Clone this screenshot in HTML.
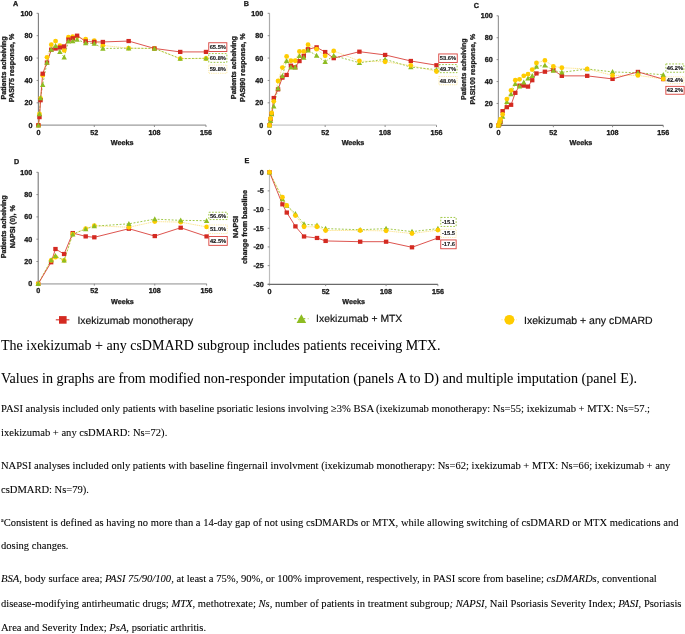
<!DOCTYPE html>
<html><head><meta charset="utf-8"><style>
html,body{margin:0;padding:0;background:#fff;}
body{width:685px;height:634px;position:relative;overflow:hidden;}
svg{position:absolute;left:0;top:0;will-change:transform;text-rendering:geometricPrecision;}
.p{will-change:transform;}
.t{font-family:"Liberation Sans", sans-serif;font-weight:bold;font-size:7.2px;fill:#1a1a1a;stroke:#1a1a1a;stroke-width:0.3px;}
.b{font-family:"Liberation Sans", sans-serif;font-weight:bold;font-size:5.75px;fill:#1a1a1a;stroke:#1a1a1a;stroke-width:0.12px;}
.lg{font-family:"Liberation Sans", sans-serif;font-size:10.25px;fill:#111;stroke:#111;stroke-width:0.18px;}
.p{position:absolute;left:1px;margin:0;font-family:"Liberation Serif", serif;color:#000;white-space:nowrap;-webkit-text-stroke:0.08px #000;}
.big{font-size:14px;-webkit-text-stroke:0.04px #000;}
.sm{font-size:10.55px;}
sup{font-size:6px;vertical-align:4px;line-height:0;}
</style></head><body>
<svg width="685" height="340" viewBox="0 0 685 340">
<line x1="38.4" y1="13.3" x2="38.4" y2="127" stroke="#7c7c7c" stroke-width="1.1"/>
<line x1="36.6" y1="125.2" x2="206" y2="125.2" stroke="#9c9c9c" stroke-width="1.3"/>
<line x1="36.6" y1="125.2" x2="38.4" y2="125.2" stroke="#808080" stroke-width="0.9"/>
<text x="32.4" y="127.75" text-anchor="end" class="t">0</text>
<line x1="36.6" y1="102.82" x2="38.4" y2="102.82" stroke="#808080" stroke-width="0.9"/>
<text x="32.4" y="105.37" text-anchor="end" class="t">20</text>
<line x1="36.6" y1="80.44" x2="38.4" y2="80.44" stroke="#808080" stroke-width="0.9"/>
<text x="32.4" y="82.99" text-anchor="end" class="t">40</text>
<line x1="36.6" y1="58.06" x2="38.4" y2="58.06" stroke="#808080" stroke-width="0.9"/>
<text x="32.4" y="60.61" text-anchor="end" class="t">60</text>
<line x1="36.6" y1="35.68" x2="38.4" y2="35.68" stroke="#808080" stroke-width="0.9"/>
<text x="32.4" y="38.23" text-anchor="end" class="t">80</text>
<line x1="36.6" y1="13.3" x2="38.4" y2="13.3" stroke="#808080" stroke-width="0.9"/>
<text x="32.4" y="15.85" text-anchor="end" class="t">100</text>
<line x1="94.27" y1="125.2" x2="94.27" y2="127" stroke="#808080" stroke-width="0.9"/>
<line x1="154.43" y1="125.2" x2="154.43" y2="127" stroke="#808080" stroke-width="0.9"/>
<line x1="206" y1="125.2" x2="206" y2="127" stroke="#808080" stroke-width="0.9"/>
<text x="38.4" y="134.8" text-anchor="middle" class="t">0</text>
<text x="94.27" y="134.8" text-anchor="middle" class="t">52</text>
<text x="154.43" y="134.8" text-anchor="middle" class="t">108</text>
<text x="206" y="134.8" text-anchor="middle" class="t">156</text>
<text x="122.2" y="145.2" text-anchor="middle" class="t">Weeks</text>
<text x="13" y="6" class="t">A</text>
<text transform="translate(5.9,68) rotate(-90)" text-anchor="middle" class="t" style="font-size:7.2px">Patients acheiving</text>
<text transform="translate(14.1,68) rotate(-90)" text-anchor="middle" class="t" style="font-size:7.2px">PASI75 response, %</text>
<polyline points="38.4,125.2 39.47,114.01 40.55,98.34 42.7,75.4 46.99,57.28 51.29,44.63 55.59,41.05 59.89,45.75 64.18,50.45 68.48,37.25 72.78,36.69 77.08,36.8 85.67,39.04 94.27,40.72 102.86,45.42 128.65,48.21 154.43,48.44 180.22,58.62 206,58.51" fill="none" stroke="#fbe07a" stroke-width="0.8" stroke-dasharray="1.3 0.6"/>
<polyline points="38.4,125.2 39.47,114.01 40.55,98.01 42.7,84.8 46.99,62.54 51.29,49.56 55.59,45.75 59.89,51.91 64.18,57.39 68.48,41.39 72.78,41.05 77.08,39.6 85.67,43.07 94.27,43.51 102.86,48.44 128.65,48.21 154.43,48.44 180.22,58.62 206,58.28" fill="none" stroke="#9cc53f" stroke-width="0.95" stroke-dasharray="1.9 1.6"/>
<polyline points="38.4,125.2 39.47,117.14 40.55,100.25 42.7,73.73 46.99,62.54 51.29,49.67 55.59,48.55 59.89,47.54 64.18,46.42 68.48,39.6 72.78,38.25 77.08,35.68 85.67,41.39 94.27,41.95 102.86,41.95 128.65,41.05 154.43,48.44 180.22,51.91 206,51.91" fill="none" stroke="#d9413b" stroke-width="0.9"/>
<circle cx="38.4" cy="125.2" r="2.4" fill="#ffcc00"/>
<circle cx="39.47" cy="114.01" r="2.4" fill="#ffcc00"/>
<circle cx="40.55" cy="98.34" r="2.4" fill="#ffcc00"/>
<circle cx="42.7" cy="75.4" r="2.4" fill="#ffcc00"/>
<circle cx="46.99" cy="57.28" r="2.4" fill="#ffcc00"/>
<circle cx="51.29" cy="44.63" r="2.4" fill="#ffcc00"/>
<circle cx="55.59" cy="41.05" r="2.4" fill="#ffcc00"/>
<circle cx="59.89" cy="45.75" r="2.4" fill="#ffcc00"/>
<circle cx="64.18" cy="50.45" r="2.4" fill="#ffcc00"/>
<circle cx="68.48" cy="37.25" r="2.4" fill="#ffcc00"/>
<circle cx="72.78" cy="36.69" r="2.4" fill="#ffcc00"/>
<circle cx="77.08" cy="36.8" r="2.4" fill="#ffcc00"/>
<circle cx="85.67" cy="39.04" r="2.4" fill="#ffcc00"/>
<circle cx="94.27" cy="40.72" r="2.4" fill="#ffcc00"/>
<circle cx="102.86" cy="45.42" r="2.4" fill="#ffcc00"/>
<circle cx="128.65" cy="48.21" r="2.4" fill="#ffcc00"/>
<circle cx="154.43" cy="48.44" r="2.4" fill="#ffcc00"/>
<circle cx="180.22" cy="58.62" r="2.4" fill="#ffcc00"/>
<circle cx="206" cy="58.51" r="2.4" fill="#ffcc00"/>
<rect x="36.2" y="123.1" width="4.4" height="4.2" fill="#d42a21"/>
<rect x="37.27" y="115.04" width="4.4" height="4.2" fill="#d42a21"/>
<rect x="38.35" y="98.15" width="4.4" height="4.2" fill="#d42a21"/>
<rect x="40.5" y="71.63" width="4.4" height="4.2" fill="#d42a21"/>
<rect x="44.79" y="60.44" width="4.4" height="4.2" fill="#d42a21"/>
<rect x="49.09" y="47.57" width="4.4" height="4.2" fill="#d42a21"/>
<rect x="53.39" y="46.45" width="4.4" height="4.2" fill="#d42a21"/>
<rect x="57.69" y="45.44" width="4.4" height="4.2" fill="#d42a21"/>
<rect x="61.98" y="44.32" width="4.4" height="4.2" fill="#d42a21"/>
<rect x="66.28" y="37.5" width="4.4" height="4.2" fill="#d42a21"/>
<rect x="70.58" y="36.15" width="4.4" height="4.2" fill="#d42a21"/>
<rect x="74.88" y="33.58" width="4.4" height="4.2" fill="#d42a21"/>
<rect x="83.47" y="39.29" width="4.4" height="4.2" fill="#d42a21"/>
<rect x="92.07" y="39.85" width="4.4" height="4.2" fill="#d42a21"/>
<rect x="100.66" y="39.85" width="4.4" height="4.2" fill="#d42a21"/>
<rect x="126.45" y="38.95" width="4.4" height="4.2" fill="#d42a21"/>
<rect x="152.23" y="46.34" width="4.4" height="4.2" fill="#d42a21"/>
<rect x="178.02" y="49.81" width="4.4" height="4.2" fill="#d42a21"/>
<rect x="203.8" y="49.81" width="4.4" height="4.2" fill="#d42a21"/>
<path d="M38.4,122.4L41.1,127.4L35.7,127.4Z" fill="#8ebc22"/>
<path d="M39.47,111.21L42.17,116.21L36.77,116.21Z" fill="#8ebc22"/>
<path d="M40.55,95.21L43.25,100.21L37.85,100.21Z" fill="#8ebc22"/>
<path d="M42.7,82L45.4,87L40,87Z" fill="#8ebc22"/>
<path d="M46.99,59.74L49.69,64.74L44.29,64.74Z" fill="#8ebc22"/>
<path d="M51.29,46.76L53.99,51.76L48.59,51.76Z" fill="#8ebc22"/>
<path d="M55.59,42.95L58.29,47.95L52.89,47.95Z" fill="#8ebc22"/>
<path d="M59.89,49.11L62.59,54.11L57.19,54.11Z" fill="#8ebc22"/>
<path d="M64.18,54.59L66.88,59.59L61.48,59.59Z" fill="#8ebc22"/>
<path d="M68.48,38.59L71.18,43.59L65.78,43.59Z" fill="#8ebc22"/>
<path d="M72.78,38.25L75.48,43.25L70.08,43.25Z" fill="#8ebc22"/>
<path d="M77.08,36.8L79.78,41.8L74.38,41.8Z" fill="#8ebc22"/>
<path d="M85.67,40.27L88.37,45.27L82.97,45.27Z" fill="#8ebc22"/>
<path d="M94.27,40.71L96.97,45.71L91.57,45.71Z" fill="#8ebc22"/>
<path d="M102.86,45.64L105.56,50.64L100.16,50.64Z" fill="#8ebc22"/>
<path d="M128.65,45.41L131.35,50.41L125.95,50.41Z" fill="#8ebc22"/>
<path d="M154.43,45.64L157.13,50.64L151.73,50.64Z" fill="#8ebc22"/>
<path d="M180.22,55.82L182.92,60.82L177.52,60.82Z" fill="#8ebc22"/>
<path d="M206,55.48L208.7,60.48L203.3,60.48Z" fill="#8ebc22"/>
<rect x="208.75" y="42.75" width="18.1" height="8.8" fill="#fff" stroke="#d9413b" stroke-width="0.9"/>
<text x="217.8" y="49.05" text-anchor="middle" class="b">65.5%</text>
<rect x="208.75" y="53.55" width="18.1" height="8.8" fill="#fff" stroke="#9cc53f" stroke-width="0.95" stroke-dasharray="1.7 1.5"/>
<text x="217.8" y="59.85" text-anchor="middle" class="b">60.8%</text>
<rect x="208.75" y="65.05" width="18.1" height="8.2" fill="#fff" stroke="#fbe07a" stroke-width="0.8" stroke-dasharray="0.8 1.0"/>
<text x="217.8" y="71.05" text-anchor="middle" class="b">59.8%</text>
<line x1="269.5" y1="13.3" x2="269.5" y2="127" stroke="#ababab" stroke-width="1.2"/>
<line x1="267.7" y1="125.2" x2="436.5" y2="125.2" stroke="#d6d6d6" stroke-width="1.8"/>
<line x1="267.7" y1="125.2" x2="269.5" y2="125.2" stroke="#808080" stroke-width="0.9"/>
<text x="263.3" y="127.75" text-anchor="end" class="t">0</text>
<line x1="267.7" y1="102.82" x2="269.5" y2="102.82" stroke="#808080" stroke-width="0.9"/>
<text x="263.3" y="105.37" text-anchor="end" class="t">20</text>
<line x1="267.7" y1="80.44" x2="269.5" y2="80.44" stroke="#808080" stroke-width="0.9"/>
<text x="263.3" y="82.99" text-anchor="end" class="t">40</text>
<line x1="267.7" y1="58.06" x2="269.5" y2="58.06" stroke="#808080" stroke-width="0.9"/>
<text x="263.3" y="60.61" text-anchor="end" class="t">60</text>
<line x1="267.7" y1="35.68" x2="269.5" y2="35.68" stroke="#808080" stroke-width="0.9"/>
<text x="263.3" y="38.23" text-anchor="end" class="t">80</text>
<line x1="267.7" y1="13.3" x2="269.5" y2="13.3" stroke="#808080" stroke-width="0.9"/>
<text x="263.3" y="15.85" text-anchor="end" class="t">100</text>
<line x1="325.17" y1="125.2" x2="325.17" y2="127" stroke="#808080" stroke-width="0.9"/>
<line x1="385.12" y1="125.2" x2="385.12" y2="127" stroke="#808080" stroke-width="0.9"/>
<line x1="436.5" y1="125.2" x2="436.5" y2="127" stroke="#808080" stroke-width="0.9"/>
<text x="269.5" y="134.8" text-anchor="middle" class="t">0</text>
<text x="325.17" y="134.8" text-anchor="middle" class="t">52</text>
<text x="385.12" y="134.8" text-anchor="middle" class="t">108</text>
<text x="436.5" y="134.8" text-anchor="middle" class="t">156</text>
<text x="353" y="145.2" text-anchor="middle" class="t">Weeks</text>
<text x="243.8" y="6" class="t">B</text>
<text transform="translate(236.2,67.6) rotate(-90)" text-anchor="middle" class="t" style="font-size:7.2px">Patients acheiving</text>
<text transform="translate(245.4,67.6) rotate(-90)" text-anchor="middle" class="t" style="font-size:7.2px">PASI90 response, %</text>
<polyline points="269.5,125.2 270.57,118.49 271.64,112.89 273.78,101.37 278.06,81 282.35,67.57 286.63,56.38 290.91,60.75 295.19,60.75 299.47,51.46 303.76,51.46 308.04,44.63 316.6,49.22 325.17,55.82 333.73,50.9 359.42,60.97 385.12,61.86 410.81,65.45 436.5,71.49" fill="none" stroke="#fbe07a" stroke-width="0.8" stroke-dasharray="1.3 0.6"/>
<polyline points="269.5,125.2 270.57,120.72 271.64,114.01 273.78,106.18 278.06,88.27 282.35,76.08 286.63,60.75 290.91,67.35 295.19,67.35 299.47,55.82 303.76,57.5 308.04,50.34 316.6,55.6 325.17,61.75 333.73,55.6 359.42,62.76 385.12,59.29 410.81,67.12 436.5,69.59" fill="none" stroke="#9cc53f" stroke-width="0.95" stroke-dasharray="1.9 1.6"/>
<polyline points="269.5,125.2 270.57,119.27 271.64,114.01 273.78,98.01 278.06,89.39 282.35,77.64 286.63,74.96 290.91,65.67 295.19,67.35 299.47,61.08 303.76,55.82 308.04,49.22 316.6,47.32 325.17,52.02 333.73,58.17 359.42,51.68 385.12,54.93 410.81,60.97 436.5,65.22" fill="none" stroke="#d9413b" stroke-width="0.9"/>
<rect x="267.3" y="123.1" width="4.4" height="4.2" fill="#d42a21"/>
<rect x="268.37" y="117.17" width="4.4" height="4.2" fill="#d42a21"/>
<rect x="269.44" y="111.91" width="4.4" height="4.2" fill="#d42a21"/>
<rect x="271.58" y="95.91" width="4.4" height="4.2" fill="#d42a21"/>
<rect x="275.86" y="87.29" width="4.4" height="4.2" fill="#d42a21"/>
<rect x="280.15" y="75.54" width="4.4" height="4.2" fill="#d42a21"/>
<rect x="284.43" y="72.86" width="4.4" height="4.2" fill="#d42a21"/>
<rect x="288.71" y="63.57" width="4.4" height="4.2" fill="#d42a21"/>
<rect x="292.99" y="65.25" width="4.4" height="4.2" fill="#d42a21"/>
<rect x="297.27" y="58.98" width="4.4" height="4.2" fill="#d42a21"/>
<rect x="301.56" y="53.72" width="4.4" height="4.2" fill="#d42a21"/>
<rect x="305.84" y="47.12" width="4.4" height="4.2" fill="#d42a21"/>
<rect x="314.4" y="45.22" width="4.4" height="4.2" fill="#d42a21"/>
<rect x="322.97" y="49.92" width="4.4" height="4.2" fill="#d42a21"/>
<rect x="331.53" y="56.07" width="4.4" height="4.2" fill="#d42a21"/>
<rect x="357.22" y="49.58" width="4.4" height="4.2" fill="#d42a21"/>
<rect x="382.92" y="52.83" width="4.4" height="4.2" fill="#d42a21"/>
<rect x="408.61" y="58.87" width="4.4" height="4.2" fill="#d42a21"/>
<rect x="434.3" y="63.12" width="4.4" height="4.2" fill="#d42a21"/>
<path d="M269.5,122.4L272.2,127.4L266.8,127.4Z" fill="#8ebc22"/>
<path d="M270.57,117.92L273.27,122.92L267.87,122.92Z" fill="#8ebc22"/>
<path d="M271.64,111.21L274.34,116.21L268.94,116.21Z" fill="#8ebc22"/>
<path d="M273.78,103.38L276.48,108.38L271.08,108.38Z" fill="#8ebc22"/>
<path d="M278.06,85.47L280.76,90.47L275.36,90.47Z" fill="#8ebc22"/>
<path d="M282.35,73.28L285.05,78.28L279.65,78.28Z" fill="#8ebc22"/>
<path d="M286.63,57.95L289.33,62.95L283.93,62.95Z" fill="#8ebc22"/>
<path d="M290.91,64.55L293.61,69.55L288.21,69.55Z" fill="#8ebc22"/>
<path d="M295.19,64.55L297.89,69.55L292.49,69.55Z" fill="#8ebc22"/>
<path d="M299.47,53.02L302.17,58.02L296.77,58.02Z" fill="#8ebc22"/>
<path d="M303.76,54.7L306.46,59.7L301.06,59.7Z" fill="#8ebc22"/>
<path d="M308.04,47.54L310.74,52.54L305.34,52.54Z" fill="#8ebc22"/>
<path d="M316.6,52.8L319.3,57.8L313.9,57.8Z" fill="#8ebc22"/>
<path d="M325.17,58.95L327.87,63.95L322.47,63.95Z" fill="#8ebc22"/>
<path d="M333.73,52.8L336.43,57.8L331.03,57.8Z" fill="#8ebc22"/>
<path d="M359.42,59.96L362.12,64.96L356.72,64.96Z" fill="#8ebc22"/>
<path d="M385.12,56.49L387.82,61.49L382.42,61.49Z" fill="#8ebc22"/>
<path d="M410.81,64.32L413.51,69.32L408.11,69.32Z" fill="#8ebc22"/>
<path d="M436.5,66.79L439.2,71.79L433.8,71.79Z" fill="#8ebc22"/>
<circle cx="269.5" cy="125.2" r="2.4" fill="#ffcc00"/>
<circle cx="270.57" cy="118.49" r="2.4" fill="#ffcc00"/>
<circle cx="271.64" cy="112.89" r="2.4" fill="#ffcc00"/>
<circle cx="273.78" cy="101.37" r="2.4" fill="#ffcc00"/>
<circle cx="278.06" cy="81" r="2.4" fill="#ffcc00"/>
<circle cx="282.35" cy="67.57" r="2.4" fill="#ffcc00"/>
<circle cx="286.63" cy="56.38" r="2.4" fill="#ffcc00"/>
<circle cx="290.91" cy="60.75" r="2.4" fill="#ffcc00"/>
<circle cx="295.19" cy="60.75" r="2.4" fill="#ffcc00"/>
<circle cx="299.47" cy="51.46" r="2.4" fill="#ffcc00"/>
<circle cx="303.76" cy="51.46" r="2.4" fill="#ffcc00"/>
<circle cx="308.04" cy="44.63" r="2.4" fill="#ffcc00"/>
<circle cx="316.6" cy="49.22" r="2.4" fill="#ffcc00"/>
<circle cx="325.17" cy="55.82" r="2.4" fill="#ffcc00"/>
<circle cx="333.73" cy="50.9" r="2.4" fill="#ffcc00"/>
<circle cx="359.42" cy="60.97" r="2.4" fill="#ffcc00"/>
<circle cx="385.12" cy="61.86" r="2.4" fill="#ffcc00"/>
<circle cx="410.81" cy="65.45" r="2.4" fill="#ffcc00"/>
<circle cx="436.5" cy="71.49" r="2.4" fill="#ffcc00"/>
<rect x="438.75" y="53.95" width="18.5" height="8.5" fill="#fff" stroke="#d9413b" stroke-width="0.9"/>
<text x="448" y="60.1" text-anchor="middle" class="b">53.6%</text>
<rect x="438.95" y="64.55" width="18.1" height="8.1" fill="#fff" stroke="#9cc53f" stroke-width="0.95" stroke-dasharray="1.7 1.5"/>
<text x="448" y="70.5" text-anchor="middle" class="b">49.7%</text>
<rect x="438.95" y="76.45" width="18.1" height="8.3" fill="#fff" stroke="#fbe07a" stroke-width="0.8" stroke-dasharray="0.8 1.0"/>
<text x="448" y="82.5" text-anchor="middle" class="b">48.0%</text>
<line x1="498.4" y1="15.8" x2="498.4" y2="127.2" stroke="#9a9a9a" stroke-width="1.2"/>
<line x1="496.6" y1="125.4" x2="663.3" y2="125.4" stroke="#6e6e6e" stroke-width="1.2"/>
<line x1="496.6" y1="125.4" x2="498.4" y2="125.4" stroke="#808080" stroke-width="0.9"/>
<text x="492.7" y="127.95" text-anchor="end" class="t">0</text>
<line x1="496.6" y1="103.48" x2="498.4" y2="103.48" stroke="#808080" stroke-width="0.9"/>
<text x="492.7" y="106.03" text-anchor="end" class="t">20</text>
<line x1="496.6" y1="81.56" x2="498.4" y2="81.56" stroke="#808080" stroke-width="0.9"/>
<text x="492.7" y="84.11" text-anchor="end" class="t">40</text>
<line x1="496.6" y1="59.64" x2="498.4" y2="59.64" stroke="#808080" stroke-width="0.9"/>
<text x="492.7" y="62.19" text-anchor="end" class="t">60</text>
<line x1="496.6" y1="37.72" x2="498.4" y2="37.72" stroke="#808080" stroke-width="0.9"/>
<text x="492.7" y="40.27" text-anchor="end" class="t">80</text>
<line x1="496.6" y1="15.8" x2="498.4" y2="15.8" stroke="#808080" stroke-width="0.9"/>
<text x="492.7" y="18.35" text-anchor="end" class="t">100</text>
<line x1="553.37" y1="125.4" x2="553.37" y2="127.2" stroke="#808080" stroke-width="0.9"/>
<line x1="612.56" y1="125.4" x2="612.56" y2="127.2" stroke="#808080" stroke-width="0.9"/>
<line x1="663.3" y1="125.4" x2="663.3" y2="127.2" stroke="#808080" stroke-width="0.9"/>
<text x="498.4" y="135" text-anchor="middle" class="t">0</text>
<text x="553.37" y="135" text-anchor="middle" class="t">52</text>
<text x="612.56" y="135" text-anchor="middle" class="t">108</text>
<text x="663.3" y="135" text-anchor="middle" class="t">156</text>
<text x="580.85" y="145.4" text-anchor="middle" class="t">Weeks</text>
<text x="473.8" y="7.9" class="t">C</text>
<text transform="translate(465.7,69.2) rotate(-90)" text-anchor="middle" class="t" style="font-size:7.0px">Patients acheiving</text>
<text transform="translate(475,69.2) rotate(-90)" text-anchor="middle" class="t" style="font-size:7.0px">PASI100 response, %</text>
<polyline points="498.4,125.4 499.46,122.11 500.51,119.15 502.63,114.44 506.86,99.1 511.08,90.33 515.31,80.24 519.54,79.37 523.77,75.86 528,74.22 532.23,69.61 536.45,62.93 544.91,60.41 553.37,66.44 561.82,67.75 587.19,68.96 612.56,75.42 637.93,75.42 663.3,78.93" fill="none" stroke="#fbe07a" stroke-width="0.8" stroke-dasharray="1.3 0.6"/>
<polyline points="498.4,125.4 499.46,123.21 500.51,121.02 502.63,116.63 506.86,101.73 511.08,94.16 515.31,83.75 519.54,86.38 523.77,82.22 528,78.38 532.23,75.86 536.45,66.44 544.91,65.23 553.37,70.49 561.82,72.35 587.19,68.96 612.56,71.92 637.93,72.79 663.3,74.76" fill="none" stroke="#9cc53f" stroke-width="0.95" stroke-dasharray="1.9 1.6"/>
<polyline points="498.4,125.4 499.46,124.3 500.51,122.11 502.63,111.15 506.86,107.21 511.08,104.8 515.31,92.85 519.54,85.62 523.77,85.62 528,86.6 532.23,80.24 536.45,73.45 544.91,71.7 553.37,70.05 561.82,75.86 587.19,75.86 612.56,78.93 637.93,71.92 663.3,79.15" fill="none" stroke="#d9413b" stroke-width="0.9"/>
<rect x="496.2" y="123.3" width="4.4" height="4.2" fill="#d42a21"/>
<rect x="497.26" y="122.2" width="4.4" height="4.2" fill="#d42a21"/>
<rect x="498.31" y="120.01" width="4.4" height="4.2" fill="#d42a21"/>
<rect x="500.43" y="109.05" width="4.4" height="4.2" fill="#d42a21"/>
<rect x="504.66" y="105.11" width="4.4" height="4.2" fill="#d42a21"/>
<rect x="508.88" y="102.7" width="4.4" height="4.2" fill="#d42a21"/>
<rect x="513.11" y="90.75" width="4.4" height="4.2" fill="#d42a21"/>
<rect x="517.34" y="83.52" width="4.4" height="4.2" fill="#d42a21"/>
<rect x="521.57" y="83.52" width="4.4" height="4.2" fill="#d42a21"/>
<rect x="525.8" y="84.5" width="4.4" height="4.2" fill="#d42a21"/>
<rect x="530.03" y="78.14" width="4.4" height="4.2" fill="#d42a21"/>
<rect x="534.25" y="71.35" width="4.4" height="4.2" fill="#d42a21"/>
<rect x="542.71" y="69.6" width="4.4" height="4.2" fill="#d42a21"/>
<rect x="551.17" y="67.95" width="4.4" height="4.2" fill="#d42a21"/>
<rect x="559.62" y="73.76" width="4.4" height="4.2" fill="#d42a21"/>
<rect x="584.99" y="73.76" width="4.4" height="4.2" fill="#d42a21"/>
<rect x="610.36" y="76.83" width="4.4" height="4.2" fill="#d42a21"/>
<rect x="635.73" y="69.82" width="4.4" height="4.2" fill="#d42a21"/>
<rect x="661.1" y="77.05" width="4.4" height="4.2" fill="#d42a21"/>
<path d="M498.4,122.6L501.1,127.6L495.7,127.6Z" fill="#8ebc22"/>
<path d="M499.46,120.41L502.16,125.41L496.76,125.41Z" fill="#8ebc22"/>
<path d="M500.51,118.22L503.21,123.22L497.81,123.22Z" fill="#8ebc22"/>
<path d="M502.63,113.83L505.33,118.83L499.93,118.83Z" fill="#8ebc22"/>
<path d="M506.86,98.93L509.56,103.93L504.16,103.93Z" fill="#8ebc22"/>
<path d="M511.08,91.36L513.78,96.36L508.38,96.36Z" fill="#8ebc22"/>
<path d="M515.31,80.95L518.01,85.95L512.61,85.95Z" fill="#8ebc22"/>
<path d="M519.54,83.58L522.24,88.58L516.84,88.58Z" fill="#8ebc22"/>
<path d="M523.77,79.42L526.47,84.42L521.07,84.42Z" fill="#8ebc22"/>
<path d="M528,75.58L530.7,80.58L525.3,80.58Z" fill="#8ebc22"/>
<path d="M532.23,73.06L534.93,78.06L529.53,78.06Z" fill="#8ebc22"/>
<path d="M536.45,63.64L539.15,68.64L533.75,68.64Z" fill="#8ebc22"/>
<path d="M544.91,62.43L547.61,67.43L542.21,67.43Z" fill="#8ebc22"/>
<path d="M553.37,67.69L556.07,72.69L550.67,72.69Z" fill="#8ebc22"/>
<path d="M561.82,69.55L564.52,74.55L559.12,74.55Z" fill="#8ebc22"/>
<path d="M587.19,66.16L589.89,71.16L584.49,71.16Z" fill="#8ebc22"/>
<path d="M612.56,69.12L615.26,74.12L609.86,74.12Z" fill="#8ebc22"/>
<path d="M637.93,69.99L640.63,74.99L635.23,74.99Z" fill="#8ebc22"/>
<path d="M663.3,71.96L666,76.96L660.6,76.96Z" fill="#8ebc22"/>
<circle cx="498.4" cy="125.4" r="2.4" fill="#ffcc00"/>
<circle cx="499.46" cy="122.11" r="2.4" fill="#ffcc00"/>
<circle cx="500.51" cy="119.15" r="2.4" fill="#ffcc00"/>
<circle cx="502.63" cy="114.44" r="2.4" fill="#ffcc00"/>
<circle cx="506.86" cy="99.1" r="2.4" fill="#ffcc00"/>
<circle cx="511.08" cy="90.33" r="2.4" fill="#ffcc00"/>
<circle cx="515.31" cy="80.24" r="2.4" fill="#ffcc00"/>
<circle cx="519.54" cy="79.37" r="2.4" fill="#ffcc00"/>
<circle cx="523.77" cy="75.86" r="2.4" fill="#ffcc00"/>
<circle cx="528" cy="74.22" r="2.4" fill="#ffcc00"/>
<circle cx="532.23" cy="69.61" r="2.4" fill="#ffcc00"/>
<circle cx="536.45" cy="62.93" r="2.4" fill="#ffcc00"/>
<circle cx="544.91" cy="60.41" r="2.4" fill="#ffcc00"/>
<circle cx="553.37" cy="66.44" r="2.4" fill="#ffcc00"/>
<circle cx="561.82" cy="67.75" r="2.4" fill="#ffcc00"/>
<circle cx="587.19" cy="68.96" r="2.4" fill="#ffcc00"/>
<circle cx="612.56" cy="75.42" r="2.4" fill="#ffcc00"/>
<circle cx="637.93" cy="75.42" r="2.4" fill="#ffcc00"/>
<circle cx="663.3" cy="78.93" r="2.4" fill="#ffcc00"/>
<rect x="665.85" y="63.95" width="18" height="8.3" fill="#fff" stroke="#9cc53f" stroke-width="0.95" stroke-dasharray="1.7 1.5"/>
<text x="674.85" y="70" text-anchor="middle" class="b">46.2%</text>
<rect x="665.85" y="76.75" width="18" height="6.9" fill="#fff" stroke="#fbe07a" stroke-width="0.8" stroke-dasharray="0.8 1.0"/>
<text x="674.85" y="82.1" text-anchor="middle" class="b">42.4%</text>
<rect x="665.85" y="86.35" width="18.3" height="7.9" fill="#fff" stroke="#d9413b" stroke-width="0.9"/>
<text x="675" y="92.2" text-anchor="middle" class="b">42.2%</text>
<line x1="38.2" y1="172.3" x2="38.2" y2="285.6" stroke="#787878" stroke-width="1.1"/>
<line x1="36.4" y1="283.8" x2="206.6" y2="283.8" stroke="#bebebe" stroke-width="1.8"/>
<line x1="36.4" y1="283.8" x2="38.2" y2="283.8" stroke="#808080" stroke-width="0.9"/>
<text x="32.2" y="286.35" text-anchor="end" class="t">0</text>
<line x1="36.4" y1="261.5" x2="38.2" y2="261.5" stroke="#808080" stroke-width="0.9"/>
<text x="32.2" y="264.05" text-anchor="end" class="t">20</text>
<line x1="36.4" y1="239.2" x2="38.2" y2="239.2" stroke="#808080" stroke-width="0.9"/>
<text x="32.2" y="241.75" text-anchor="end" class="t">40</text>
<line x1="36.4" y1="216.9" x2="38.2" y2="216.9" stroke="#808080" stroke-width="0.9"/>
<text x="32.2" y="219.45" text-anchor="end" class="t">60</text>
<line x1="36.4" y1="194.6" x2="38.2" y2="194.6" stroke="#808080" stroke-width="0.9"/>
<text x="32.2" y="197.15" text-anchor="end" class="t">80</text>
<line x1="36.4" y1="172.3" x2="38.2" y2="172.3" stroke="#808080" stroke-width="0.9"/>
<text x="32.2" y="174.85" text-anchor="end" class="t">100</text>
<line x1="94.33" y1="283.8" x2="94.33" y2="285.6" stroke="#808080" stroke-width="0.9"/>
<line x1="154.78" y1="283.8" x2="154.78" y2="285.6" stroke="#808080" stroke-width="0.9"/>
<line x1="206.6" y1="283.8" x2="206.6" y2="285.6" stroke="#808080" stroke-width="0.9"/>
<text x="38.2" y="293.4" text-anchor="middle" class="t">0</text>
<text x="94.33" y="293.4" text-anchor="middle" class="t">52</text>
<text x="154.78" y="293.4" text-anchor="middle" class="t">108</text>
<text x="206.6" y="293.4" text-anchor="middle" class="t">156</text>
<text x="122.4" y="303.8" text-anchor="middle" class="t">Weeks</text>
<text x="14" y="164" class="t">D</text>
<text transform="translate(5.9,226.8) rotate(-90)" text-anchor="middle" class="t" style="font-size:7.2px">Patients acheiving</text>
<text transform="translate(14.6,226.8) rotate(-90)" text-anchor="middle" class="t" style="font-size:7.2px">NAPSI (0), %</text>
<polyline points="38.2,283.8 51.15,260.38 55.47,257.15 64.11,260.38 72.74,234.18 85.7,228.61 94.33,225.71 128.88,227.27 154.78,221.58 180.69,222.14 206.6,226.94" fill="none" stroke="#fbe07a" stroke-width="0.8" stroke-dasharray="1.3 0.6"/>
<polyline points="38.2,283.8 51.15,260.05 55.47,255.7 64.11,260.38 72.74,234.18 85.7,228.94 94.33,226.15 128.88,223.81 154.78,219.13 180.69,220.36 206.6,220.69" fill="none" stroke="#9cc53f" stroke-width="0.95" stroke-dasharray="1.9 1.6"/>
<polyline points="38.2,283.8 51.15,262.28 55.47,249.01 64.11,254.03 72.74,233.07 85.7,236.41 94.33,237.3 128.88,228.72 154.78,236.08 180.69,227.72 206.6,236.41" fill="none" stroke="#d9413b" stroke-width="0.9"/>
<rect x="36" y="281.7" width="4.4" height="4.2" fill="#d42a21"/>
<rect x="48.95" y="260.18" width="4.4" height="4.2" fill="#d42a21"/>
<rect x="53.27" y="246.91" width="4.4" height="4.2" fill="#d42a21"/>
<rect x="61.91" y="251.93" width="4.4" height="4.2" fill="#d42a21"/>
<rect x="70.54" y="230.97" width="4.4" height="4.2" fill="#d42a21"/>
<rect x="83.5" y="234.31" width="4.4" height="4.2" fill="#d42a21"/>
<rect x="92.13" y="235.2" width="4.4" height="4.2" fill="#d42a21"/>
<rect x="126.68" y="226.62" width="4.4" height="4.2" fill="#d42a21"/>
<rect x="152.58" y="233.98" width="4.4" height="4.2" fill="#d42a21"/>
<rect x="178.49" y="225.62" width="4.4" height="4.2" fill="#d42a21"/>
<rect x="204.4" y="234.31" width="4.4" height="4.2" fill="#d42a21"/>
<circle cx="38.2" cy="283.8" r="2.4" fill="#ffcc00"/>
<circle cx="51.15" cy="260.38" r="2.4" fill="#ffcc00"/>
<circle cx="55.47" cy="257.15" r="2.4" fill="#ffcc00"/>
<circle cx="64.11" cy="260.38" r="2.4" fill="#ffcc00"/>
<circle cx="72.74" cy="234.18" r="2.4" fill="#ffcc00"/>
<circle cx="85.7" cy="228.61" r="2.4" fill="#ffcc00"/>
<circle cx="94.33" cy="225.71" r="2.4" fill="#ffcc00"/>
<circle cx="128.88" cy="227.27" r="2.4" fill="#ffcc00"/>
<circle cx="154.78" cy="221.58" r="2.4" fill="#ffcc00"/>
<circle cx="180.69" cy="222.14" r="2.4" fill="#ffcc00"/>
<circle cx="206.6" cy="226.94" r="2.4" fill="#ffcc00"/>
<path d="M38.2,281L40.9,286L35.5,286Z" fill="#8ebc22"/>
<path d="M51.15,257.25L53.85,262.25L48.45,262.25Z" fill="#8ebc22"/>
<path d="M55.47,252.9L58.17,257.9L52.77,257.9Z" fill="#8ebc22"/>
<path d="M64.11,257.58L66.81,262.58L61.41,262.58Z" fill="#8ebc22"/>
<path d="M72.74,231.38L75.44,236.38L70.04,236.38Z" fill="#8ebc22"/>
<path d="M85.7,226.14L88.4,231.14L83,231.14Z" fill="#8ebc22"/>
<path d="M94.33,223.35L97.03,228.35L91.63,228.35Z" fill="#8ebc22"/>
<path d="M128.88,221.01L131.58,226.01L126.18,226.01Z" fill="#8ebc22"/>
<path d="M154.78,216.33L157.48,221.33L152.08,221.33Z" fill="#8ebc22"/>
<path d="M180.69,217.56L183.39,222.56L177.99,222.56Z" fill="#8ebc22"/>
<path d="M206.6,217.89L209.3,222.89L203.9,222.89Z" fill="#8ebc22"/>
<rect x="208.85" y="212.25" width="18.4" height="7.3" fill="#fff" stroke="#9cc53f" stroke-width="0.95" stroke-dasharray="1.7 1.5"/>
<text x="218.05" y="217.8" text-anchor="middle" class="b">56.6%</text>
<rect x="208.85" y="224.95" width="18.4" height="8.6" fill="#fff" stroke="#fbe07a" stroke-width="0.8" stroke-dasharray="0.8 1.0"/>
<text x="218.05" y="231.15" text-anchor="middle" class="b">51.0%</text>
<rect x="208.85" y="236.45" width="18.4" height="8.9" fill="#fff" stroke="#d9413b" stroke-width="0.9"/>
<text x="218.05" y="242.8" text-anchor="middle" class="b">42.5%</text>
<line x1="269.5" y1="172.2" x2="269.5" y2="286.1" stroke="#bdbdbd" stroke-width="1.2"/>
<line x1="267.7" y1="284.3" x2="437.9" y2="284.3" stroke="#6a6a6a" stroke-width="1.2"/>
<line x1="267.7" y1="172.2" x2="269.5" y2="172.2" stroke="#808080" stroke-width="0.9"/>
<text x="263.8" y="174.75" text-anchor="end" class="t">0</text>
<line x1="267.7" y1="190.88" x2="269.5" y2="190.88" stroke="#808080" stroke-width="0.9"/>
<text x="263.8" y="193.43" text-anchor="end" class="t">-5</text>
<line x1="267.7" y1="209.57" x2="269.5" y2="209.57" stroke="#808080" stroke-width="0.9"/>
<text x="263.8" y="212.12" text-anchor="end" class="t">-10</text>
<line x1="267.7" y1="228.25" x2="269.5" y2="228.25" stroke="#808080" stroke-width="0.9"/>
<text x="263.8" y="230.8" text-anchor="end" class="t">-15</text>
<line x1="267.7" y1="246.93" x2="269.5" y2="246.93" stroke="#808080" stroke-width="0.9"/>
<text x="263.8" y="249.48" text-anchor="end" class="t">-20</text>
<line x1="267.7" y1="265.62" x2="269.5" y2="265.62" stroke="#808080" stroke-width="0.9"/>
<text x="263.8" y="268.17" text-anchor="end" class="t">-25</text>
<line x1="267.7" y1="284.3" x2="269.5" y2="284.3" stroke="#808080" stroke-width="0.9"/>
<text x="263.8" y="286.85" text-anchor="end" class="t">-30</text>
<line x1="325.63" y1="284.3" x2="325.63" y2="286.1" stroke="#808080" stroke-width="0.9"/>
<line x1="386.08" y1="284.3" x2="386.08" y2="286.1" stroke="#808080" stroke-width="0.9"/>
<line x1="437.9" y1="284.3" x2="437.9" y2="286.1" stroke="#808080" stroke-width="0.9"/>
<text x="269.5" y="293.9" text-anchor="middle" class="t">0</text>
<text x="325.63" y="293.9" text-anchor="middle" class="t">52</text>
<text x="386.08" y="293.9" text-anchor="middle" class="t">108</text>
<text x="437.9" y="293.9" text-anchor="middle" class="t">156</text>
<text x="353.7" y="304.3" text-anchor="middle" class="t">Weeks</text>
<text x="244.4" y="163" class="t">E</text>
<text transform="translate(238.1,227) rotate(-90)" text-anchor="middle" class="t" style="font-size:7.2px">NAPSI</text>
<text transform="translate(247,227) rotate(-90)" text-anchor="middle" class="t" style="font-size:7.2px">change from baseline</text>
<polyline points="269.5,172.2 282.45,197.24 286.77,205.46 295.41,215.55 304.04,226.76 317,226.76 325.63,230.49 360.18,230.49 386.08,230.87 411.99,233.48 437.9,230.12" fill="none" stroke="#fbe07a" stroke-width="0.8" stroke-dasharray="1.3 0.6"/>
<polyline points="269.5,172.2 282.45,199.1 286.77,205.46 295.41,213.68 304.04,224.14 317,225.26 325.63,228.62 360.18,229.74 386.08,228.62 411.99,231.61 437.9,228.62" fill="none" stroke="#9cc53f" stroke-width="0.95" stroke-dasharray="1.9 1.6"/>
<polyline points="269.5,172.2 282.45,204.34 286.77,212.56 295.41,226.38 304.04,236.47 317,237.97 325.63,240.95 360.18,241.7 386.08,241.7 411.99,247.31 437.9,237.97" fill="none" stroke="#d9413b" stroke-width="0.9"/>
<rect x="267.3" y="170.1" width="4.4" height="4.2" fill="#d42a21"/>
<rect x="280.25" y="202.24" width="4.4" height="4.2" fill="#d42a21"/>
<rect x="284.57" y="210.46" width="4.4" height="4.2" fill="#d42a21"/>
<rect x="293.21" y="224.28" width="4.4" height="4.2" fill="#d42a21"/>
<rect x="301.84" y="234.37" width="4.4" height="4.2" fill="#d42a21"/>
<rect x="314.8" y="235.87" width="4.4" height="4.2" fill="#d42a21"/>
<rect x="323.43" y="238.85" width="4.4" height="4.2" fill="#d42a21"/>
<rect x="357.98" y="239.6" width="4.4" height="4.2" fill="#d42a21"/>
<rect x="383.88" y="239.6" width="4.4" height="4.2" fill="#d42a21"/>
<rect x="409.79" y="245.21" width="4.4" height="4.2" fill="#d42a21"/>
<rect x="435.7" y="235.87" width="4.4" height="4.2" fill="#d42a21"/>
<path d="M269.5,169.4L272.2,174.4L266.8,174.4Z" fill="#8ebc22"/>
<path d="M282.45,196.3L285.15,201.3L279.75,201.3Z" fill="#8ebc22"/>
<path d="M286.77,202.66L289.47,207.66L284.07,207.66Z" fill="#8ebc22"/>
<path d="M295.41,210.88L298.11,215.88L292.71,215.88Z" fill="#8ebc22"/>
<path d="M304.04,221.34L306.74,226.34L301.34,226.34Z" fill="#8ebc22"/>
<path d="M317,222.46L319.7,227.46L314.3,227.46Z" fill="#8ebc22"/>
<path d="M325.63,225.82L328.33,230.82L322.93,230.82Z" fill="#8ebc22"/>
<path d="M360.18,226.94L362.88,231.94L357.48,231.94Z" fill="#8ebc22"/>
<path d="M386.08,225.82L388.78,230.82L383.38,230.82Z" fill="#8ebc22"/>
<path d="M411.99,228.81L414.69,233.81L409.29,233.81Z" fill="#8ebc22"/>
<path d="M437.9,225.82L440.6,230.82L435.2,230.82Z" fill="#8ebc22"/>
<circle cx="269.5" cy="172.2" r="2.4" fill="#ffcc00"/>
<circle cx="282.45" cy="197.24" r="2.4" fill="#ffcc00"/>
<circle cx="286.77" cy="205.46" r="2.4" fill="#ffcc00"/>
<circle cx="295.41" cy="215.55" r="2.4" fill="#ffcc00"/>
<circle cx="304.04" cy="226.76" r="2.4" fill="#ffcc00"/>
<circle cx="317" cy="226.76" r="2.4" fill="#ffcc00"/>
<circle cx="325.63" cy="230.49" r="2.4" fill="#ffcc00"/>
<circle cx="360.18" cy="230.49" r="2.4" fill="#ffcc00"/>
<circle cx="386.08" cy="230.87" r="2.4" fill="#ffcc00"/>
<circle cx="411.99" cy="233.48" r="2.4" fill="#ffcc00"/>
<circle cx="437.9" cy="230.12" r="2.4" fill="#ffcc00"/>
<rect x="440.75" y="217.45" width="15.4" height="9" fill="#fff" stroke="#9cc53f" stroke-width="0.95" stroke-dasharray="1.7 1.5"/>
<text x="448.45" y="223.85" text-anchor="middle" class="b">-15.1</text>
<rect x="440.75" y="229.25" width="15.4" height="8.2" fill="#fff" stroke="#fbe07a" stroke-width="0.8" stroke-dasharray="0.8 1.0"/>
<text x="448.45" y="235.25" text-anchor="middle" class="b">-15.5</text>
<rect x="440.75" y="239.95" width="15.4" height="8.8" fill="#fff" stroke="#d9413b" stroke-width="0.9"/>
<text x="448.45" y="246.25" text-anchor="middle" class="b">-17.6</text>
<line x1="55.8" y1="319.8" x2="69.4" y2="319.8" stroke="#d9413b" stroke-width="1.2"/>
<rect x="59" y="316.1" width="7.6" height="7.6" fill="#d42a21"/>
<line x1="294.3" y1="318.6" x2="308.4" y2="318.6" stroke="#9cc53f" stroke-width="1.2" stroke-dasharray="2 2.5"/>
<path d="M301.4,314.3L306.2,323.1L296.6,323.1Z" fill="#8ebc22"/>
<line x1="501.5" y1="319.8" x2="517" y2="319.8" stroke="#fbe07a" stroke-width="1" stroke-dasharray="1 1.5"/>
<circle cx="509.4" cy="319.8" r="4.9" fill="#ffcc00"/>
<text x="77.4" y="323.7" class="lg" style="font-size:10.38px">Ixekizumab monotherapy</text>
<text x="316.1" y="322.4" class="lg" style="font-size:10.38px">Ixekizumab + MTX</text>
<text x="524.0" y="323.8" class="lg" style="font-size:10.5px">Ixekizumab + any cDMARD</text>
</svg>
<div class="p big" id="l1" style="top:337.9px;">The ixekizumab + any csDMARD subgroup includes patients receiving MTX.</div>
<div class="p big" id="l2" style="top:370px;font-size:14.1px;">Values in graphs are from modified non-responder imputation (panels A to D) and multiple imputation (panel E).</div>
<div class="p sm" id="l3" style="top:402.6px;font-size:10.57px;">PASI analysis included only patients with baseline psoriatic lesions involving &ge;3% BSA (ixekizumab monotherapy: Ns=55; ixekizumab + MTX: Ns=57.;</div>
<div class="p sm" id="l4" style="top:426.6px;">ixekizumab + any csDMARD: Ns=72).</div>
<div class="p sm" id="l5" style="top:459.8px;">NAPSI analyses included only patients with baseline fingernail involvment (ixekizumab monotherapy: Ns=62; ixekizumab + MTX: Ns=66; ixekizumab + any</div>
<div class="p sm" id="l6" style="top:483.8px;">csDMARD: Ns=79).</div>
<div class="p sm" id="l7" style="top:516.6px;"><sup>a</sup>Consistent is defined as having no more than a 14-day gap of not using csDMARDs or MTX, while allowing switching of csDMARD or MTX medications and</div>
<div class="p sm" id="l8" style="top:540.2px;">dosing changes.</div>
<div class="p sm" id="l9" style="top:573.1px;font-size:10.62px;"><i>BSA</i>, body surface area; <i>PASI 75/90/100</i>, at least a 75%, 90%, or 100% improvement, respectively, in PASI score from baseline; <i>csDMARDs</i>, conventional</div>
<div class="p sm" id="l10" style="top:597.6px;font-size:10.57px;">disease-modifying antirheumatic drugs; <i>MTX</i>, methotrexate; <i>Ns,</i> number of patients in treatment subgroup<i>;</i> <i>NAPSI</i>, Nail Psoriasis Severity Index; <i>PASI</i>, Psoriasis</div>
<div class="p sm" id="l11" style="top:621.6px;">Area and Severity Index; <i>PsA</i>, psoriatic arthritis.</div>
</body></html>
